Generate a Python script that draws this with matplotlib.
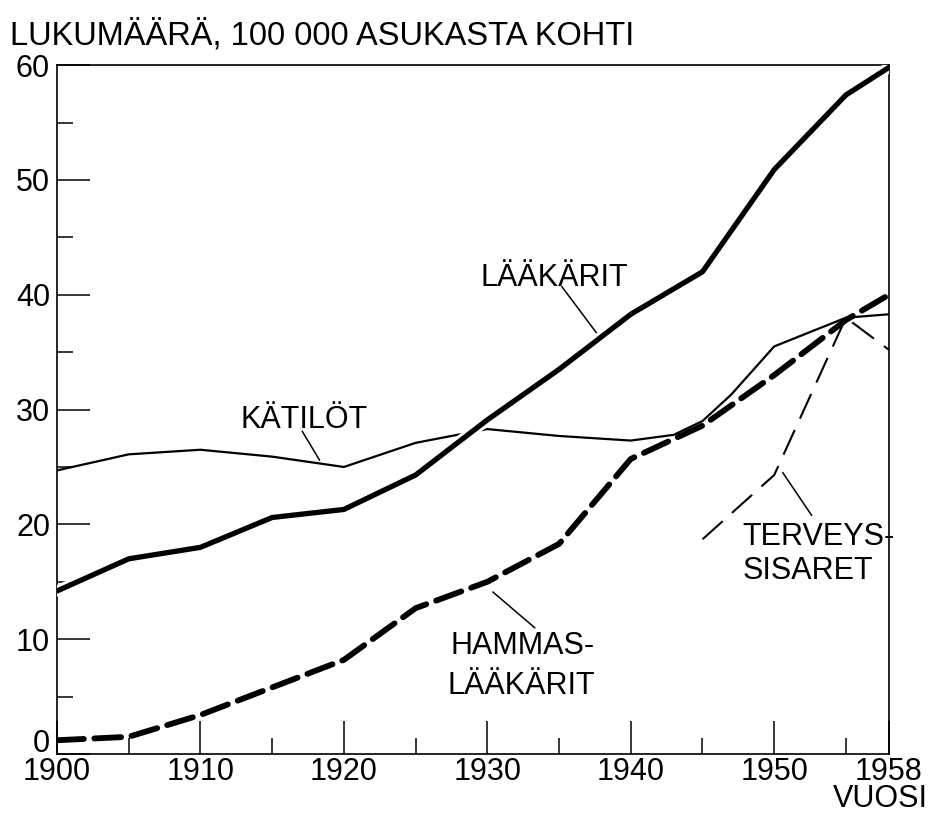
import matplotlib
matplotlib.use("Agg")
import matplotlib.pyplot as plt
import matplotlib.patheffects as pe
from matplotlib.ticker import MultipleLocator
from matplotlib.transforms import ScaledTranslation

# ---- data ----
years_laakarit = [1900, 1905, 1910, 1915, 1920, 1925, 1930, 1935, 1940, 1945, 1950, 1955, 1958]
laakarit = [14.2, 17.0, 18.0, 20.6, 21.3, 24.3, 29.1, 33.5, 38.3, 42.0, 50.9, 57.4, 59.8]

years_katilot = [1900, 1905, 1910, 1915, 1920, 1925, 1930, 1935, 1940, 1943, 1945, 1947, 1950, 1955, 1958]
katilot = [24.7, 26.1, 26.5, 25.9, 25.0, 27.1, 28.3, 27.7, 27.3, 27.8, 29.0, 31.3, 35.5, 38.0, 38.3]

years_hammas = [1900, 1905, 1910, 1915, 1920, 1925, 1930, 1935, 1940, 1945, 1950, 1955, 1958]
hammas = [1.2, 1.5, 3.4, 5.8, 8.2, 12.7, 15.0, 18.3, 25.7, 28.6, 33.0, 37.8, 40.0]

years_terveys = [1945, 1950, 1955, 1958]
terveys = [18.7, 24.3, 38.0, 35.2]

xticks = [1900, 1910, 1920, 1930, 1940, 1950, 1958]
xtick_labels = ["1900", "1910", "1920", "1930", "1940", "1950", "1958"]
yticks = [0, 10, 20, 30, 40, 50, 60]

title = "LUKUMÄÄRÄ, 100 000 ASUKASTA KOHTI"
xlabel = "VUOSI"

narrow = ["Liberation Sans Narrow", "Liberation Sans", "DejaVu Sans"]
wide = ["Liberation Sans", "DejaVu Sans"]

fig = plt.figure(figsize=(9.33, 8.14), dpi=100)
ax = fig.add_axes([0.0611, 0.0737, 0.8917, 0.8463])
ax.set_xlim(1900, 1958)
ax.set_ylim(0, 60)

# thin lines first
ax.plot(years_katilot, katilot, color="black", lw=1.6, solid_joinstyle="round", zorder=2)
ax.plot(years_terveys, terveys, color="black", lw=1.5, dashes=(13, 6), zorder=2)
# thick lines with white halo so thin lines appear broken at crossings
halo = [pe.Stroke(linewidth=8, foreground="white"), pe.Normal()]
ax.plot(years_laakarit, laakarit, color="black", lw=3.8, solid_capstyle="round",
        solid_joinstyle="round", path_effects=halo, zorder=3)
ax.plot(years_hammas, hammas, color="black", lw=4.2, dashes=(4.6, 1.8),
        dash_capstyle="round", zorder=3)

# ticks
ax.set_xticks(xticks)
ax.set_xticklabels(xtick_labels, family=narrow, fontsize=22)
ax.xaxis.set_minor_locator(MultipleLocator(5))
ax.set_yticks(yticks)
ax.set_yticklabels([str(v) for v in yticks], family=narrow, fontsize=22)
ax.yaxis.set_minor_locator(MultipleLocator(5))
ax.tick_params(which="major", direction="in", length=24, width=1.1)
ax.tick_params(axis="x", which="major", pad=2)
ax.tick_params(axis="y", which="major", pad=5)
ax.tick_params(which="minor", direction="in", length=11.5, width=1.1)
for s in ax.spines.values():
    s.set_linewidth(1.2)
# raise the "0" label slightly, as in the reference
zero_lab = ax.get_yticklabels()[0]
zero_lab.set_transform(zero_lab.get_transform() + ScaledTranslation(0, 0.14, fig.dpi_scale_trans))

# curve labels and leader lines
lab = dict(family=wide, fontsize=22, color="black", va="baseline", ha="left")
ax.text(1929.5, 40.8, "LÄÄKÄRIT", **lab)
ax.plot([1935.2, 1937.6], [40.7, 36.7], color="black", lw=1.1)
ax.text(1912.8, 28.4, "KÄTILÖT", **lab)
ax.plot([1917.1, 1918.3], [28.1, 25.6], color="black", lw=1.1)
ax.text(1927.4, 8.7, "HAMMAS-", **lab)
ax.text(1927.2, 5.2, "LÄÄKÄRIT", **lab)
ax.plot([1930.4, 1933.3], [14.1, 11.0], color="black", lw=1.1)
ax.text(1947.8, 18.2, "TERVEYS-", **lab)
ax.text(1947.8, 15.2, "SISARET", **lab)
ax.plot([1950.6, 1952.6], [24.5, 20.8], color="black", lw=1.1)

fig.text(0.0107, 0.945, title, family=narrow, fontsize=23.5, ha="left", va="baseline")
fig.text(0.995, 0.0, xlabel, family=narrow, fontsize=22, ha="right", va="bottom")

fig.savefig("out.png", dpi=100)
